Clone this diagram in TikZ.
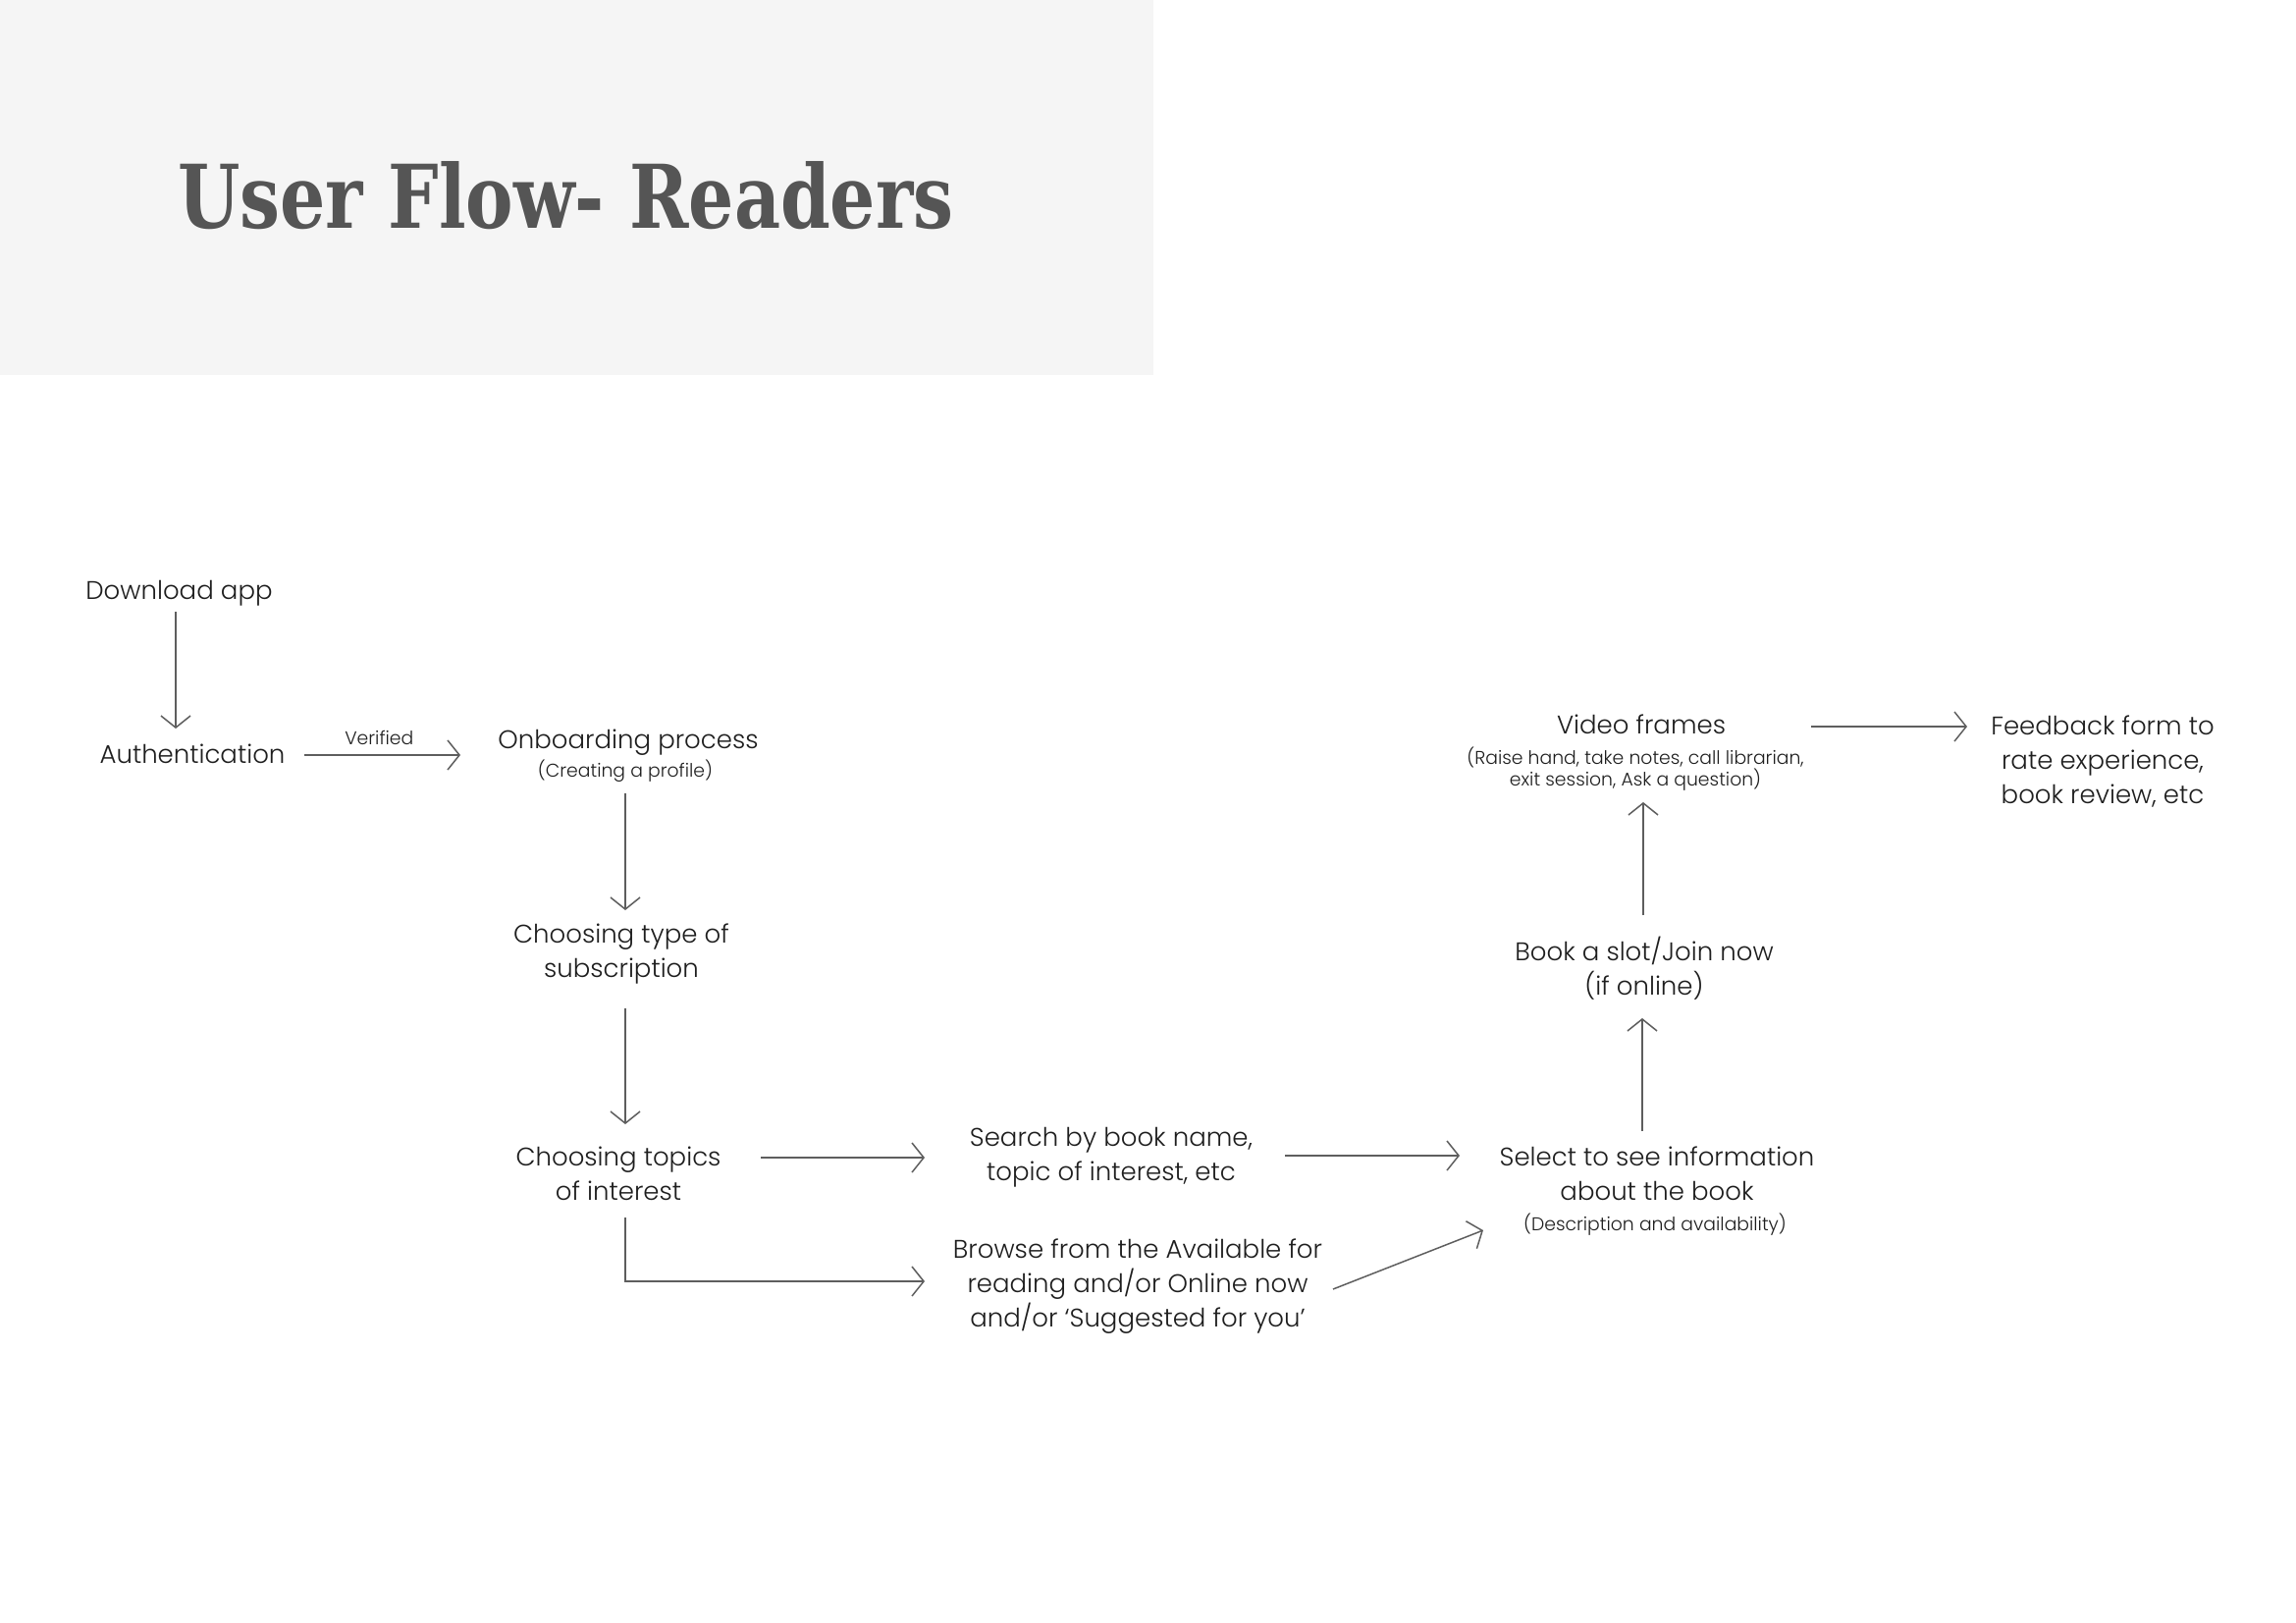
\documentclass[tikz,border=0pt]{standalone}
\usepackage{fontspec}
\usepackage{graphicx}
\setmainfont{Poppins}[UprightFont={* Light}]
\newfontfamily\titlefont{DejaVu Serif}
\usetikzlibrary{arrows.meta,calc}
\definecolor{bgbox}{HTML}{F5F5F5}
\definecolor{titlecol}{HTML}{555555}
\definecolor{txtcol}{HTML}{1E1E1E}
\definecolor{linecol}{HTML}{5E5E5E}
\tikzset{
  txt/.style={anchor=base, inner sep=0pt, align=center, text=txtcol,
    font=\fontsize{26}{35}\selectfont},
  subtxt/.style={anchor=base, inner sep=0pt, align=center, text=txtcol,
    font=\fontsize{18.8}{22}\selectfont},
  arr/.style={draw=linecol, line width=1.5pt,
    -{Straight Barb[length=12pt,width=30pt,line width=1.5pt]}},
}
\begin{document}
\begin{tikzpicture}[x=1pt,y=-1pt]
\useasboundingbox (0,0) rectangle (2339,1653);
\fill[bgbox] (0,0) rectangle (1175,382);
\node[anchor=base west, inner sep=0pt, text=titlecol] (title) at (181,233)
  {\resizebox{790pt}{68pt}{\titlefont\bfseries User Flow- Readers}};

% base anchor = baseline of the last line
\node[txt] (dl) at (182.5,610) {Download app};
\node[txt] (auth) at (196,777) {Authentication};
\node[txt] (onb) at (640,762) {Onboarding process};
\node[subtxt] (onbsub) at (637,791) {(Creating a profile)};
\node[txt] (type) at (633,995) {Choosing type of\\subscription};
\node[txt] (topics) at (630,1222) {Choosing topics\\of interest};
\node[txt] (search) at (1132,1202) {Search by book name,\\topic of interest, etc};
\node[txt] (browse) at (1159,1351) {Browse from the Available for\\reading and/or Online now\\and/or ‘Suggested for you’};
\node[txt] (select) at (1688,1222) {Select to see information\\about the book};
\node[subtxt] (selectsub) at (1686,1253) {(Description and availability)};
\node[txt] (book) at (1675,1013) {Book a slot/Join now\\(if online)};
\node[txt] (video) at (1672,747) {Video frames};
\node[subtxt] (videosub) at (1666,800) {(Raise hand, take notes, call librarian,\\exit session, Ask a question)};
\node[txt] (fb) at (2142,818) {Feedback form to\\rate experience,\\book review, etc};

\draw[arr] ($(dl.base)+(-3.5,13)$) -- ($(auth.base)+(-17,-35)$);
\draw[arr] ($(auth.base)+(114,-8)$) -- node[subtxt, anchor=base, pos=0.48, yshift=11pt] (verified) {Verified} ($(onb.base)+(-171,7)$);
\draw[arr] ($(onbsub.base)+(0,17)$) -- ($(type.base)+(4,-68)$);
\draw[arr] ($(type.base)+(4,32)$) -- ($(topics.base)+(7,-77)$);
\draw[arr] ($(topics.base)+(145,-43)$) -- ($(search.base)+(-190,-23)$);
\draw[arr] ($(topics.base)+(7,18)$) |- ($(browse.base)+(-217,-46)$);
\draw[arr] ($(search.base)+(177,-25)$) -- ($(select.base)+(-201,-45)$);
\draw[arr] ($(browse.base)+(199,-38)$) -- ($(selectsub.base)+(-175,0)$);
\draw[arr] ($(select.base)+(-15,-70)$) -- ($(book.base)+(-2,24)$);
\draw[arr] ($(book.base)+(-1,-81)$) -- ($(videosub.base)+(8,17)$);
\draw[arr] ($(video.base)+(173,-7)$) -- ($(fb.base)+(-138,-78)$);
\end{tikzpicture}
\end{document}
